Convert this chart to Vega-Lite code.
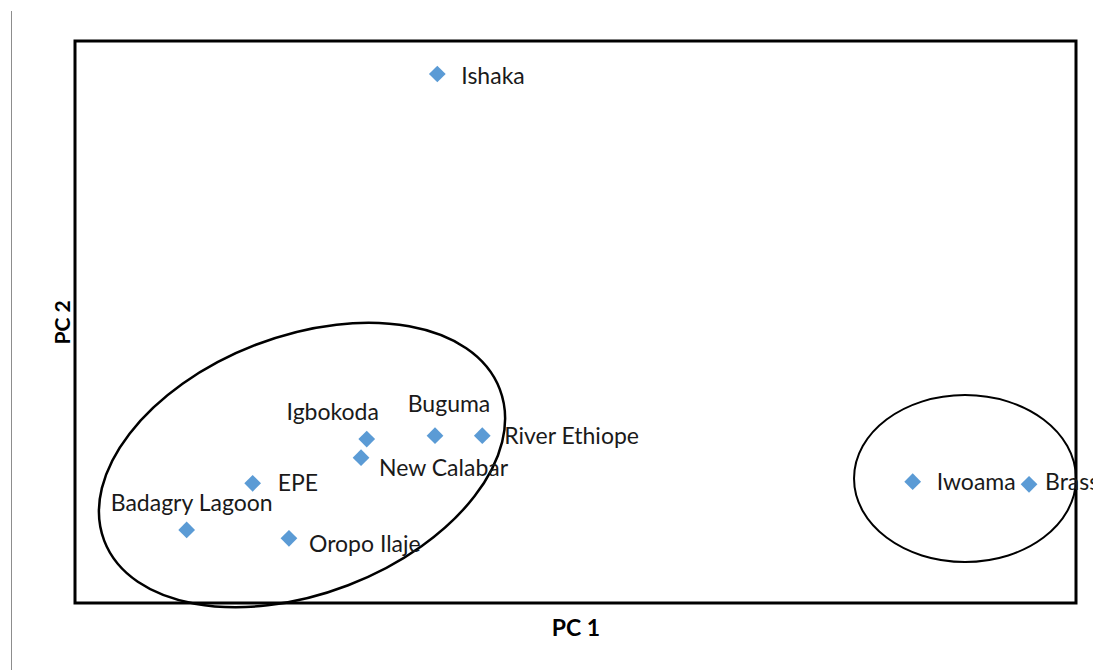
{
  "$schema": "https://vega.github.io/schema/vega-lite/v6.json",
  "width": 1001,
  "height": 562,
  "autosize": {"type": "none"},
  "padding": {"left": 75, "top": 41, "right": 17, "bottom": 67},
  "background": "white",
  "config": {
    "view": {"stroke": "black", "strokeWidth": 3},
    "font": "Lato",
    "axis": {"ticks": false, "labels": false, "domain": false, "grid": false, "titleFont": "Lato", "titleFontWeight": "bold", "titleColor": "black"},
    "axisX": {"titlePadding": 14, "titleFontSize": 23},
    "axisY": {"titlePadding": 2, "titleFontSize": 21}
  },
  "datasets": {
    "sites": [
      {"site": "Ishaka", "pc1": -0.366, "pc2": 3.23},
      {"site": "Igbokoda", "pc1": -1.074, "pc2": -0.034},
      {"site": "Buguma", "pc1": -0.389, "pc2": -0.004},
      {"site": "River Ethiope", "pc1": 0.085, "pc2": -0.004},
      {"site": "New Calabar", "pc1": -1.131, "pc2": -0.201},
      {"site": "EPE", "pc1": -2.218, "pc2": -0.43},
      {"site": "Badagry Lagoon", "pc1": -2.88, "pc2": -0.847},
      {"site": "Oropo Ilaje", "pc1": -1.854, "pc2": -0.922},
      {"site": "Iwoama", "pc1": 4.402, "pc2": -0.415},
      {"site": "Brass", "pc1": 5.569, "pc2": -0.439}
    ],
    "clusters": [
      {"cluster": "western group", "cx": -1.723, "cy": -0.266},
      {"cluster": "eastern group", "cx": 4.927, "cy": -0.387}
    ],
    "edge": [
      {"ex": -4.637, "ey": 3.793, "ey2": -2.1}
    ]
  },
  "layer": [
    {
      "data": {"name": "edge"},
      "mark": {"type": "rule", "color": "#8c8c8c", "strokeWidth": 1, "clip": false},
      "encoding": {
        "x": {"field": "ex", "type": "quantitative", "title": "PC 1", "scale": {"domain": [-4, 6.04], "nice": false, "zero": false}},
        "y": {"field": "ey", "type": "quantitative", "title": "PC 2", "scale": {"domain": [-1.5, 3.525], "nice": false, "zero": false}},
        "y2": {"field": "ey2"}
      }
    },
    {
      "mark": {"type": "rule", "color": "#868686", "strokeWidth": 1},
      "encoding": {"x": {"datum": 0, "type": "quantitative"}}
    },
    {
      "mark": {"type": "rule", "color": "#868686", "strokeWidth": 1},
      "encoding": {"y": {"datum": 0, "type": "quantitative"}}
    },
    {
      "data": {"name": "clusters"},
      "transform": [{"filter": {"field": "cluster", "equal": "western group"}}],
      "mark": {"type": "point", "shape": "M -1 0 C -1 -0.3358 -0.5523 -0.608 0 -0.608 C 0.5523 -0.608 1 -0.3358 1 0 C 1 0.3358 0.5523 0.608 0 0.608 C -0.5523 0.608 -1 0.3358 -1 0 Z", "size": 179437, "angle": 339, "filled": false, "stroke": "black", "strokeWidth": 2.5, "opacity": 1},
      "encoding": {
        "x": {"field": "cx", "type": "quantitative", "title": "PC 1", "scale": {"domain": [-4, 6.04], "nice": false, "zero": false}},
        "y": {"field": "cy", "type": "quantitative", "title": "PC 2", "scale": {"domain": [-1.5, 3.525], "nice": false, "zero": false}}
      }
    },
    {
      "data": {"name": "clusters"},
      "transform": [{"filter": {"field": "cluster", "equal": "eastern group"}}],
      "mark": {"type": "point", "shape": "M -1 0 C -1 -0.4153 -0.5523 -0.752 0 -0.752 C 0.5523 -0.752 1 -0.4153 1 0 C 1 0.4153 0.5523 0.752 0 0.752 C -0.5523 0.752 -1 0.4153 -1 0 Z", "size": 49284, "filled": false, "stroke": "black", "strokeWidth": 2, "opacity": 1},
      "encoding": {
        "x": {"field": "cx", "type": "quantitative", "title": "PC 1", "scale": {"domain": [-4, 6.04], "nice": false, "zero": false}},
        "y": {"field": "cy", "type": "quantitative", "title": "PC 2", "scale": {"domain": [-1.5, 3.525], "nice": false, "zero": false}}
      }
    },
    {
      "data": {"name": "sites"},
      "layer": [
        {
          "mark": {"type": "point", "shape": "diamond", "filled": true, "color": "#5B9BD5", "size": 280, "opacity": 1}
        },
        {
          "transform": [{"filter": {"field": "site", "equal": "Ishaka"}}],
          "mark": {"type": "text", "align": "left", "baseline": "alphabetic", "dx": 24, "dy": 10, "fontSize": 23, "color": "#1a1a1a"},
          "encoding": {"text": {"field": "site"}}
        },
        {
          "transform": [{"filter": {"field": "site", "equal": "Igbokoda"}}],
          "mark": {"type": "text", "align": "center", "baseline": "alphabetic", "dx": -34, "dy": -19, "fontSize": 23, "color": "#1a1a1a"},
          "encoding": {"text": {"field": "site"}}
        },
        {
          "transform": [{"filter": {"field": "site", "equal": "Buguma"}}],
          "mark": {"type": "text", "align": "center", "baseline": "alphabetic", "dx": 14, "dy": -24, "fontSize": 23, "color": "#1a1a1a"},
          "encoding": {"text": {"field": "site"}}
        },
        {
          "transform": [{"filter": {"field": "site", "equal": "River Ethiope"}}],
          "mark": {"type": "text", "align": "left", "baseline": "alphabetic", "dx": 22, "dy": 8, "fontSize": 23, "color": "#1a1a1a"},
          "encoding": {"text": {"field": "site"}}
        },
        {
          "transform": [{"filter": {"field": "site", "equal": "New Calabar"}}],
          "mark": {"type": "text", "align": "left", "baseline": "alphabetic", "dx": 18, "dy": 18, "fontSize": 23, "color": "#1a1a1a"},
          "encoding": {"text": {"field": "site"}}
        },
        {
          "transform": [{"filter": {"field": "site", "equal": "EPE"}}],
          "mark": {"type": "text", "align": "left", "baseline": "alphabetic", "dx": 25, "dy": 8, "fontSize": 23, "color": "#1a1a1a"},
          "encoding": {"text": {"field": "site"}}
        },
        {
          "transform": [{"filter": {"field": "site", "equal": "Badagry Lagoon"}}],
          "mark": {"type": "text", "align": "center", "baseline": "alphabetic", "dx": 5, "dy": -19, "fontSize": 23, "color": "#1a1a1a"},
          "encoding": {"text": {"field": "site"}}
        },
        {
          "transform": [{"filter": {"field": "site", "equal": "Oropo Ilaje"}}],
          "mark": {"type": "text", "align": "left", "baseline": "alphabetic", "dx": 20, "dy": 14, "fontSize": 23, "color": "#1a1a1a"},
          "encoding": {"text": {"field": "site"}}
        },
        {
          "transform": [{"filter": {"field": "site", "equal": "Iwoama"}}],
          "mark": {"type": "text", "align": "left", "baseline": "alphabetic", "dx": 24, "dy": 8, "fontSize": 23, "color": "#1a1a1a"},
          "encoding": {"text": {"field": "site"}}
        },
        {
          "transform": [{"filter": {"field": "site", "equal": "Brass"}}],
          "mark": {"type": "text", "align": "left", "baseline": "alphabetic", "dx": 16, "dy": 6, "fontSize": 23, "color": "#1a1a1a"},
          "encoding": {"text": {"field": "site"}}
        }
      ],
      "encoding": {
        "x": {"field": "pc1", "type": "quantitative", "title": "PC 1", "scale": {"domain": [-4, 6.04], "nice": false, "zero": false}},
        "y": {"field": "pc2", "type": "quantitative", "title": "PC 2", "scale": {"domain": [-1.5, 3.525], "nice": false, "zero": false}}
      }
    }
  ]
}
